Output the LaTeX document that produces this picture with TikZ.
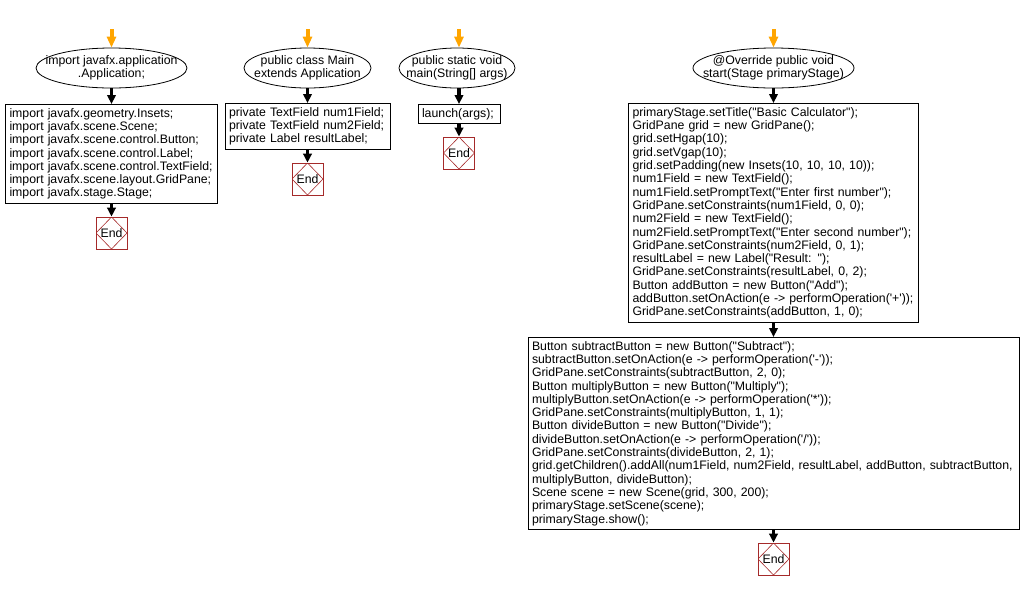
\documentclass[tikz,border=0pt]{standalone}
\usepackage{fontspec}
\setmainfont{Liberation Sans}[Ligatures=TeXOff]
\usetikzlibrary{arrows.meta,shapes.geometric}
\definecolor{startorange}{HTML}{FFA500}
\definecolor{endred}{HTML}{A52A2A}
\newcommand{\codefont}{\fontsize{12.3}{13.3}\selectfont}

\begin{document}
\begin{tikzpicture}[x=1pt,y=-1pt,
  entry/.style={ellipse,draw,line width=0.8pt,inner xsep=-40pt,inner ysep=-5pt,align=center,font=\codefont,minimum height=40},
  stmt/.style={draw,line width=0.8pt,anchor=north,align=left,inner xsep=4pt,inner ysep=3pt,font=\codefont},
  endbox/.style={draw=endred,line width=0.8pt,minimum width=31,minimum height=32,inner sep=0pt,font=\codefont,
    path picture={\draw[endred,line width=0.6pt] (path picture bounding box.north) -- (path picture bounding box.east)
      -- (path picture bounding box.south) -- (path picture bounding box.west) -- cycle;}},
  flow/.style={-{Triangle[length=9pt,width=8.5pt]},line width=3.8pt},
  startflow/.style={draw=startorange,line width=4pt,-{Triangle[length=11pt,width=9pt,fill=startorange]}}]
  \useasboundingbox (0,0) rectangle (1021,590);

  % imports
  \coordinate (s1) at (111.5,29);
  \node[entry,minimum width=151] (imp) at (111.5,68) {import javafx.application\\.Application;};
  \node[stmt,text width=204,minimum height=99] (impbody) at (111.5,104) {import javafx.geometry.Insets;\\
    import javafx.scene.Scene;\\
    import javafx.scene.control.Button;\\
    import javafx.scene.control.Label;\\
    import javafx.scene.control.TextField;\\
    import javafx.scene.layout.GridPane;\\
    import javafx.stage.Stage;};
  \node[endbox] (impend) at (111.5,233) {End};

  % class
  \coordinate (s2) at (307.5,29);
  \node[entry,minimum width=127] (cls) at (307.5,68) {public class Main\\extends Application};
  \node[stmt,text width=157,minimum height=46] (clsbody) at (307.5,103) {private TextField num1Field;\\
    private TextField num2Field;\\
    private Label resultLabel;};
  \node[endbox] (clsend) at (307.5,179) {End};

  % main
  \coordinate (s3) at (459,29);
  \node[entry,minimum width=116] (mn) at (457,68) {public static void\\main(String[] args)};
  \node[stmt,text width=74,minimum height=19] (mnbody) at (459,104) {launch(args);};
  \node[endbox] (mnend) at (459,153) {End};

  % start
  \coordinate (s4) at (773.5,29);
  \node[entry,minimum width=161] (st) at (773.5,68) {@Override public void\\start(Stage primaryStage)};
  \node[stmt,text width=282,minimum height=219] (stbody) at (773.5,103) {primaryStage.setTitle("Basic Calculator");\\
    GridPane grid = new GridPane();\\
    grid.setHgap(10);\\
    grid.setVgap(10);\\
    grid.setPadding(new Insets(10, 10, 10, 10));\\
    num1Field = new TextField();\\
    num1Field.setPromptText("Enter first number");\\
    GridPane.setConstraints(num1Field, 0, 0);\\
    num2Field = new TextField();\\
    num2Field.setPromptText("Enter second number");\\
    GridPane.setConstraints(num2Field, 0, 1);\\
    resultLabel = new Label("Result: ");\\
    GridPane.setConstraints(resultLabel, 0, 2);\\
    Button addButton = new Button("Add");\\
    addButton.setOnAction(e -> performOperation('+'));\\
    GridPane.setConstraints(addButton, 1, 0);};
  \node[stmt,text width=483,minimum height=192] (stmore) at (773.5,337) {Button subtractButton = new Button("Subtract");\\
    subtractButton.setOnAction(e -> performOperation('-'));\\
    GridPane.setConstraints(subtractButton, 2, 0);\\
    Button multiplyButton = new Button("Multiply");\\
    multiplyButton.setOnAction(e -> performOperation('*'));\\
    GridPane.setConstraints(multiplyButton, 1, 1);\\
    Button divideButton = new Button("Divide");\\
    divideButton.setOnAction(e -> performOperation('/'));\\
    GridPane.setConstraints(divideButton, 2, 1);\\
    grid.getChildren().addAll(num1Field, num2Field, resultLabel, addButton, subtractButton,\\
    multiplyButton, divideButton);\\
    Scene scene = new Scene(grid, 300, 200);\\
    primaryStage.setScene(scene);\\
    primaryStage.show();};
  \node[endbox] (stend) at (773.5,559) {End};

  \draw[startflow] (s1) -- (imp.north);
  \draw[startflow] (s2) -- (cls.north);
  \draw[startflow] (s3) -- (s3 |- mn.north);
  \draw[startflow] (s4) -- (st.north);
  \draw[flow] (imp) -- (impbody);
  \draw[flow] (impbody) -- (impend);
  \draw[flow] (cls) -- (clsbody);
  \draw[flow] (clsbody) -- (clsend);
  \draw[flow] (mnbody |- mn.south) -- (mnbody);
  \draw[flow] (mnbody) -- (mnend);
  \draw[flow] (st) -- (stbody);
  \draw[flow] (stbody) -- (stmore);
  \draw[flow] (stmore) -- (stend);
\end{tikzpicture}
\end{document}
